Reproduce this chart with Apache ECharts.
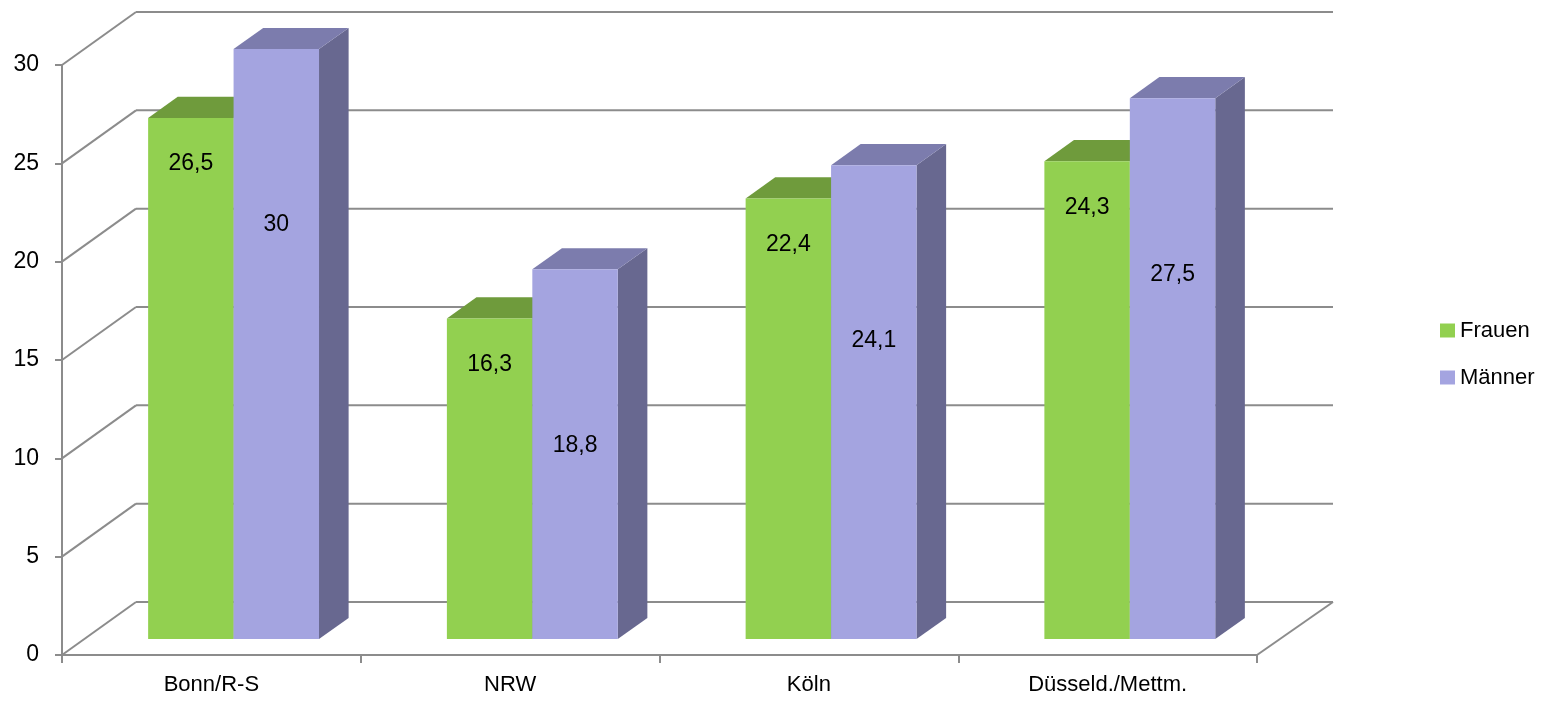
<!DOCTYPE html>
<html><head><meta charset="utf-8">
<script src="https://cdn.jsdelivr.net/npm/echarts@6/dist/echarts.min.js"></script>
<style>html,body{margin:0;padding:0;background:#fff}#c{width:1541px;height:701px}</style>
</head><body><div id="c"></div>
<script>
const categories = ['Bonn/R-S', 'NRW', 'Köln', 'Düsseld./Mettm.'];
const frauen = [26.5, 16.3, 22.4, 24.3];
const maenner = [30, 18.8, 24.1, 27.5];
const yTicks = [0, 5, 10, 15, 20, 25, 30];
const seriesNames = ['Frauen', 'Männer'];

const FONT = "'Liberation Sans Narrow','Arial Narrow','Liberation Sans',Arial,sans-serif";
const FS = 23, FS_CAT = 22, FS_LEG = 22;
const GRID = '#8c8c8c';
const WALL = [74, -53];
const BAR_FRONT = 0.3, BAR_BACK = 0.7, BAR_W = 0.286;
const COLORS = [
  {front: '#92d050', top: '#6f9b3c', side: '#5f8433'},
  {front: '#a4a4e0', top: '#7c7cad', side: '#686890'}
];
const LABEL_OFF = [46, 176];
const fmt = v => String(v).replace('.', ',');

function wallItem(params, api) {
  const v = api.value(1);
  const band = api.size([1, 0])[0];
  const pL = api.coord([0, v]);
  const pR = api.coord([categories.length - 1, v]);
  const xL = pL[0] - band / 2, xR = pR[0] + band / 2, y = pL[1];
  const st = {stroke: GRID, lineWidth: 2};
  const ch = [
    {type: 'line', shape: {x1: xL, y1: y, x2: xL + WALL[0], y2: y + WALL[1]}, style: st},
    {type: 'line', shape: {x1: xL + WALL[0], y1: y + WALL[1], x2: xR + WALL[0] + 2, y2: y + WALL[1]}, style: st}
  ];
  if (v === 0) ch.push({type: 'line', shape: {x1: xR, y1: y, x2: xR + WALL[0] + 2, y2: y + WALL[1]}, style: st});
  return {type: 'group', children: ch};
}

function barItem(si) {
  return function (params, api) {
    const ci = api.value(0), v = api.value(1);
    const band = api.size([1, 0])[0];
    const top = api.coord([ci, v]), base = api.coord([ci, 0]);
    const w = band * BAR_W;
    const fx = WALL[0] * BAR_FRONT, fy = WALL[1] * BAR_FRONT;
    const dx = WALL[0] * (BAR_BACK - BAR_FRONT), dy = WALL[1] * (BAR_BACK - BAR_FRONT);
    const x0 = top[0] + fx + (si === 0 ? -w : 0);
    const x1 = x0 + w;
    const yT = top[1] + fy, yB = base[1] + fy;
    const c = COLORS[si];
    return {type: 'group', children: [
      {type: 'polygon', shape: {points: [[x1, yT], [x1 + dx, yT + dy], [x1 + dx, yB + dy], [x1, yB]]}, style: {fill: c.side}},
      {type: 'polygon', shape: {points: [[x0, yT], [x1, yT], [x1 + dx, yT + dy], [x0 + dx, yT + dy]]}, style: {fill: c.top}},
      {type: 'rect', shape: {x: x0, y: yT, width: w, height: yB - yT}, style: {fill: c.front}},
      {type: 'text', style: {x: (x0 + x1) / 2, y: yT + LABEL_OFF[si], text: fmt(v), fill: '#000',
        fontSize: FS, fontFamily: FONT, align: 'center', verticalAlign: 'middle'}}
    ]};
  };
}

const chart = echarts.init(document.getElementById('c'), null, {renderer: 'canvas'});
chart.setOption({
  animation: false,
  backgroundColor: '#fff',
  grid: {left: 62, right: 284, top: 65, bottom: 46, containLabel: false},
  legend: {
    data: seriesNames, orient: 'vertical', left: 1435, top: 313,
    itemWidth: 15, itemHeight: 14, itemGap: 22, icon: 'rect',
    textStyle: {fontSize: FS_LEG, lineHeight: 25, fontFamily: FONT, color: '#000'}
  },
  xAxis: {
    type: 'category', data: categories, boundaryGap: true,
    axisLine: {show: true, lineStyle: {color: GRID, width: 2}},
    axisTick: {show: true, length: 8, lineStyle: {color: GRID, width: 2}},
    axisLabel: {fontSize: FS_CAT, fontFamily: FONT, color: '#000', margin: 19},
    splitLine: {show: false}
  },
  yAxis: {
    type: 'value', min: 0, max: 30, interval: 5,
    axisLine: {show: true, lineStyle: {color: GRID, width: 2}},
    axisTick: {show: true, length: 7, lineStyle: {color: GRID, width: 2}},
    axisLabel: {fontSize: FS, fontFamily: FONT, color: '#000', margin: 23},
    splitLine: {show: false}
  },
  series: [
    {type: 'custom', name: 'wall', z: 1, silent: true, renderItem: wallItem,
      data: yTicks.map(v => [0, v]), clip: false},
    {type: 'custom', name: seriesNames[0], z: 2, renderItem: barItem(0), itemStyle: {color: COLORS[0].front},
      data: frauen.map((v, i) => [i, v]), clip: false},
    {type: 'custom', name: seriesNames[1], z: 3, renderItem: barItem(1), itemStyle: {color: COLORS[1].front},
      data: maenner.map((v, i) => [i, v]), clip: false}
  ]
});
</script></body></html>
